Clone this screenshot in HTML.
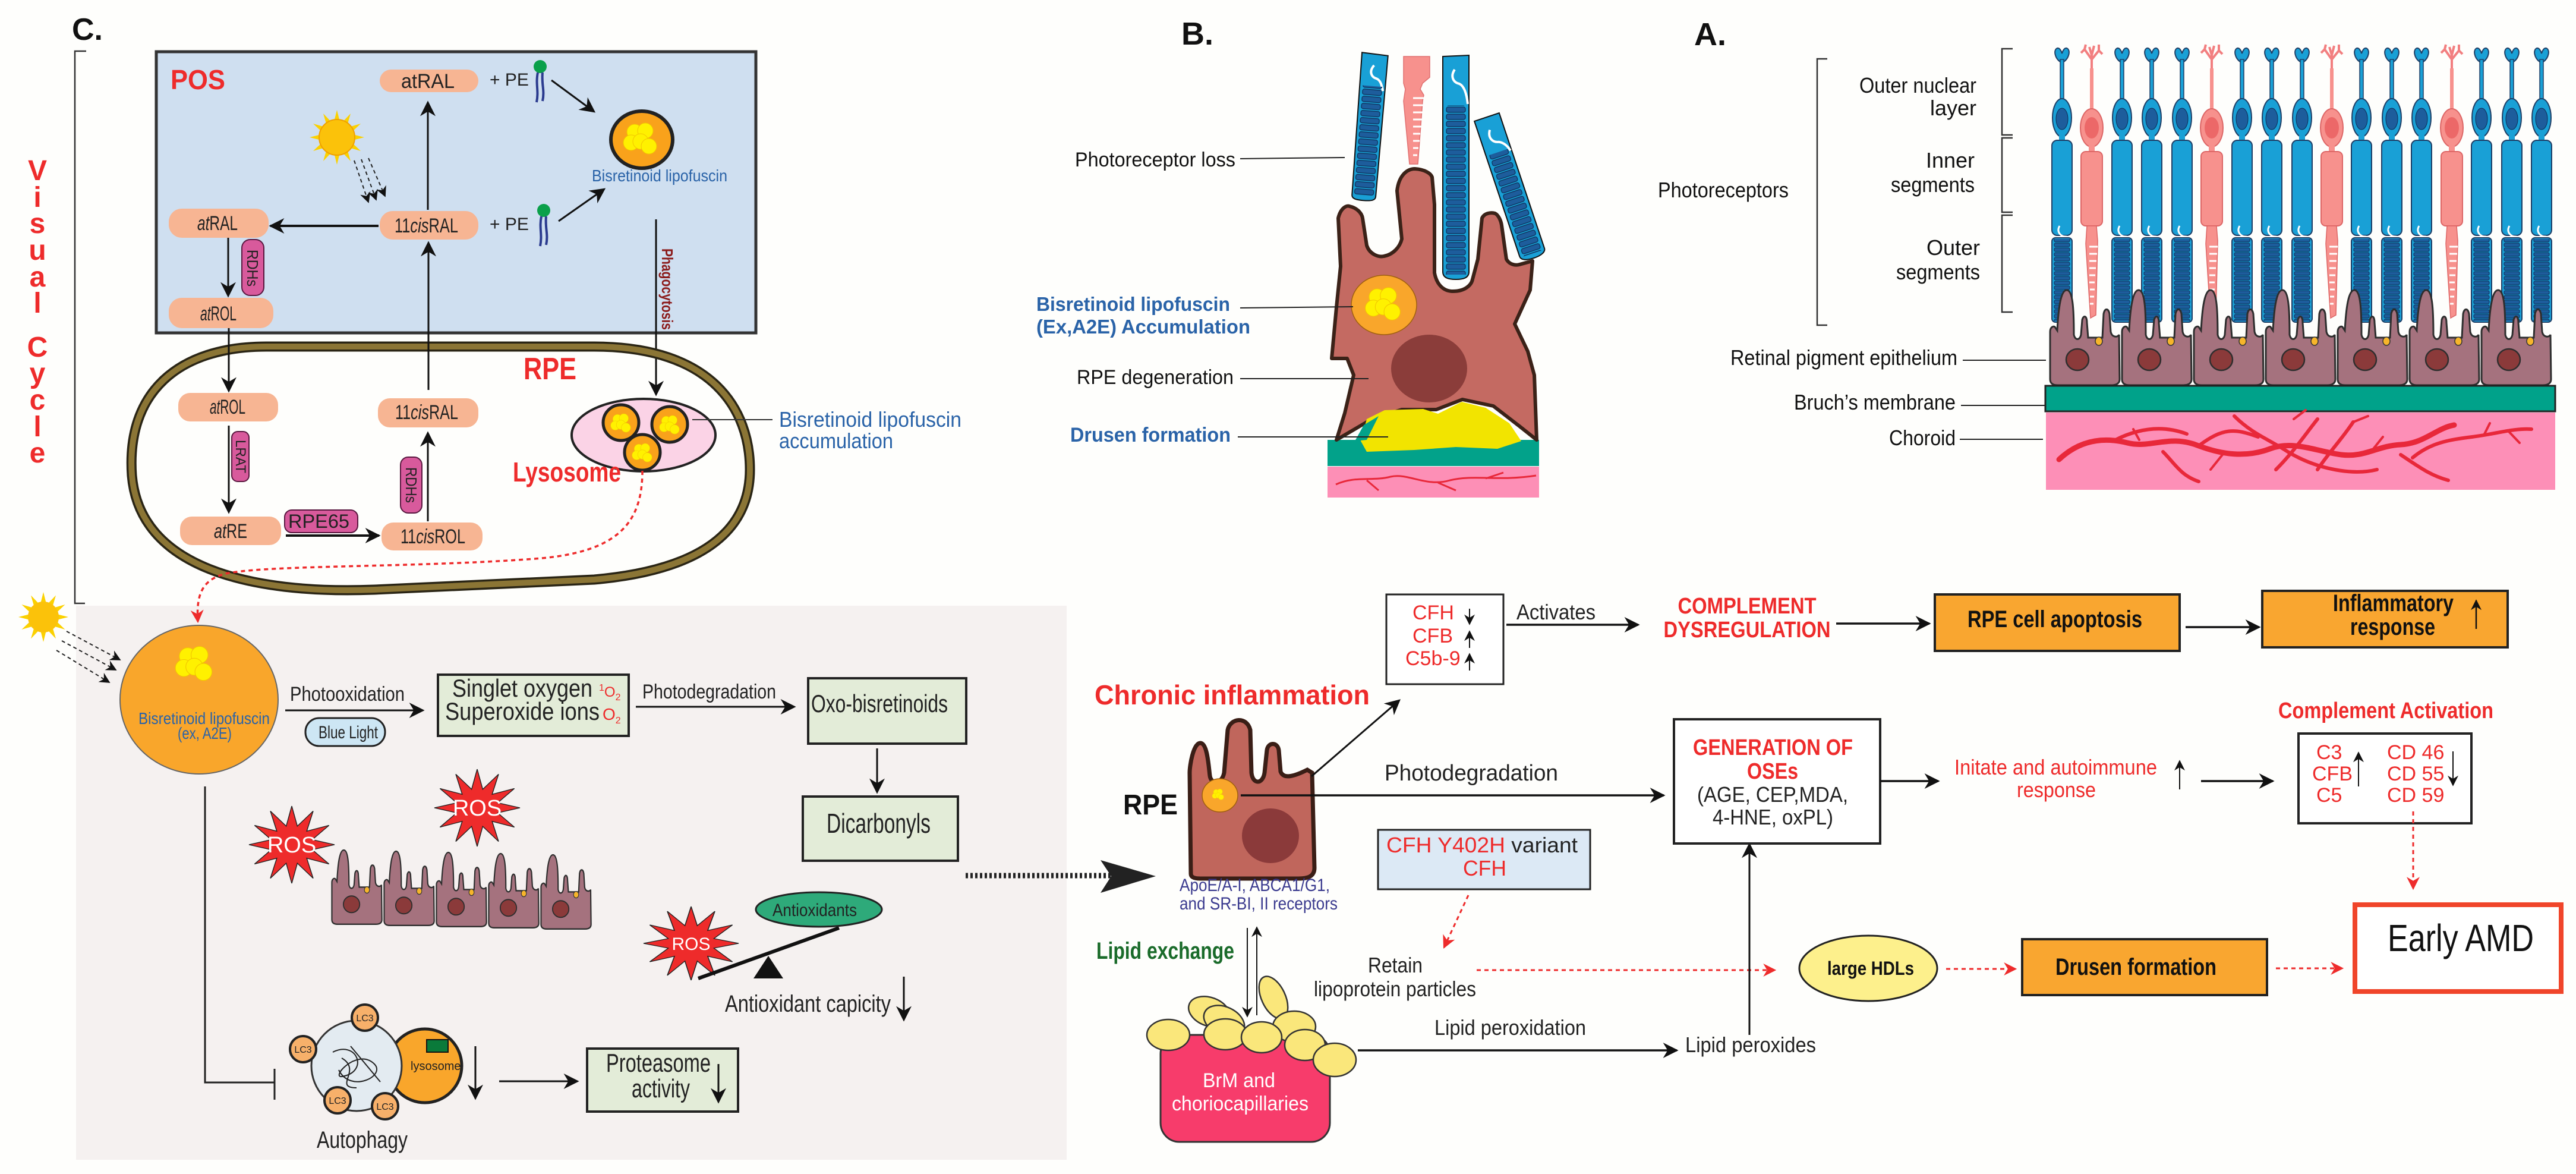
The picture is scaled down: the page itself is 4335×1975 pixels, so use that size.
<!DOCTYPE html>
<html><head><meta charset="utf-8"><style>
html,body{margin:0;padding:0;background:#fefefc}
svg{display:block}
text{font-family:"Liberation Sans",Arial,sans-serif}
</style></head><body>
<svg width="4335" height="1975" viewBox="0 0 4335 1975" xmlns="http://www.w3.org/2000/svg">
<defs>
<marker id="a" viewBox="0 0 10 10" refX="9" refY="5" markerWidth="30" markerHeight="26" markerUnits="userSpaceOnUse" orient="auto"><path d="M0,0 L10,5 L0,10 L3,5z" fill="#111"/></marker>
<marker id="as" viewBox="0 0 10 10" refX="9" refY="5" markerWidth="20" markerHeight="18" markerUnits="userSpaceOnUse" orient="auto"><path d="M0,0 L10,5 L0,10 L3,5z" fill="#111"/></marker>
<marker id="ar" viewBox="0 0 10 10" refX="9" refY="5" markerWidth="24" markerHeight="22" markerUnits="userSpaceOnUse" orient="auto"><path d="M0,0 L10,5 L0,10 L3,5z" fill="#ee2b2b"/></marker>
<pattern id="discs" x="-14" y="0" width="28" height="8" patternUnits="userSpaceOnUse"><rect x="1" y="1" width="26" height="6" rx="2" fill="#1d5d9c" stroke="#0d2d55" stroke-width="1"/></pattern>
<pattern id="discsB" x="-17" y="0" width="34" height="12" patternUnits="userSpaceOnUse"><rect x="1" y="1" width="32" height="9" rx="3" fill="#1d5d9c" stroke="#0d2d55" stroke-width="1.2"/></pattern>
<path id="star" d="M100,0 L48,13 L87,50 L35,35 L50,87 L13,48 L0,100 L-13,48 L-50,87 L-35,35 L-87,50 L-48,13 L-100,0 L-48,-13 L-87,-50 L-35,-35 L-50,-87 L-13,-48 L0,-100 L13,-48 L50,-87 L35,-35 L87,-50 L48,-13 Z"/>
<g id="rod">
<path d="M-3,24 C-12,18 -15,4 -8,1 C-4,0 -1,6 0,10 C1,6 4,0 8,1 C15,4 12,18 3,24 Z" fill="#19a0d6" stroke="#1f3f66" stroke-width="2"/>
<rect x="-3" y="20" width="6" height="70" fill="#19a0d6" stroke="#1f3f66" stroke-width="1.5"/>
<ellipse cx="0" cy="118" rx="16" ry="32" fill="#19a0d6" stroke="#1f3f66" stroke-width="2"/>
<ellipse cx="0" cy="120" rx="10" ry="18" fill="#1d5d9c" stroke="#0d2d55"/>
<rect x="-5" y="145" width="10" height="16" fill="#19a0d6"/>
<rect x="-17" y="156" width="34" height="160" rx="9" fill="#19a0d6" stroke="#1f3f66" stroke-width="2"/>
<path d="M-4,300 C-10,310 -2,318 6,318 C12,318 14,325 18,330" stroke="#fff" stroke-width="3" fill="none"/>
<rect x="-17" y="320" width="34" height="142" rx="6" fill="#19a0d6" stroke="#1f3f66" stroke-width="2"/>
<rect x="-14" y="322" width="28" height="138" fill="url(#discs)"/>
</g>
<g id="cone">
<path d="M0,50 L0,18 M0,25 L-12,8 M0,25 L12,10 M-12,8 L-18,14 M-12,8 L-10,0 M12,10 L18,16 M12,10 L12,0 M0,18 L-4,4 M0,18 L4,2" stroke="#f27f80" stroke-width="4" fill="none"/>
<rect x="-3" y="40" width="6" height="75" fill="#f7918d"/>
<ellipse cx="0" cy="140" rx="19" ry="32" fill="#f7918d" stroke="#d66" stroke-width="2"/>
<ellipse cx="0" cy="140" rx="12" ry="18" fill="#ec6868"/>
<rect x="-5" y="168" width="10" height="16" fill="#f7918d"/>
<rect x="-18" y="180" width="36" height="125" rx="8" fill="#f7918d" stroke="#d66" stroke-width="2"/>
<path d="M-8,305 L8,305 L10,330 L7,455 L-2,460 L-10,335 Z" fill="#f7918d" stroke="#d66" stroke-width="1.5"/>
<path d="M-4,340 h14 M-4,352 h13 M-4,364 h12 M-4,376 h11 M-4,388 h10 M-4,400 h9 M-3,412 h8 M-3,424 h7 M-3,436 h6" stroke="#fff" stroke-width="3"/>
</g>
<g id="rpecell">
<path d="M2,150 L2,70 C2,62 8,60 10,62 L14,68 C16,30 20,0 30,0 C40,0 42,30 42,75 C44,85 52,85 54,75 L56,50 C58,42 64,42 64,55 L66,80 L90,80 L92,40 C94,30 100,30 102,40 L104,70 C106,80 116,80 118,75 L119,150 C119,158 112,160 105,160 L15,160 C8,160 2,158 2,150 Z" fill="#a5727e" stroke="#2e2e2e" stroke-width="3"/>
<ellipse cx="48" cy="117" rx="19" ry="18" fill="#8b3a3a" stroke="#2e2e2e" stroke-width="2.5"/>
<ellipse cx="84" cy="86" rx="6" ry="7" fill="#f7b52b" stroke="#333" stroke-width="1.5"/>
</g>
<g id="balls">
<circle cx="-10" cy="-10" r="13" fill="#fff100" stroke="#f2c500"/>
<circle cx="8" cy="-12" r="13" fill="#fff100" stroke="#f2c500"/>
<circle cx="-16" cy="8" r="13" fill="#fff100" stroke="#f2c500"/>
<circle cx="0" cy="6" r="13" fill="#fff100" stroke="#f2c500"/>
<circle cx="14" cy="14" r="13" fill="#fff100" stroke="#f2c500"/>
</g>
<g id="pe">
<circle cx="0" cy="0" r="11" fill="#0aa04a"/>
<path d="M-4,10 C-8,30 -2,40 -6,60 M4,10 C2,30 8,40 4,58" stroke="#2b3b8f" stroke-width="4" fill="none"/>
</g>
</defs>

<!-- ================= PANEL C ================= -->
<text x="121" y="67" font-size="52" font-weight="bold" fill="#111">C.</text>
<path d="M145,86 L126,86 L126,1015 L143,1015" stroke="#333" stroke-width="2.5" fill="none"/>
<g font-size="48" font-weight="bold" fill="#ee2b2b" text-anchor="middle">
<text x="63" y="303">V</text><text x="63" y="348">i</text><text x="63" y="392">s</text><text x="63" y="437">u</text><text x="63" y="482">a</text><text x="63" y="526">l</text>
<text x="63" y="600">C</text><text x="63" y="644">y</text><text x="63" y="689">c</text><text x="63" y="734">l</text><text x="63" y="778">e</text>
</g>

<rect x="128" y="1019" width="1667" height="932" fill="#f5f1f0"/>

<rect x="263" y="87" width="1009" height="473" fill="#cfdff0" stroke="#333" stroke-width="5"/>
<text x="287" y="150" font-size="46" font-weight="bold" fill="#ee2b2b" textLength="92" lengthAdjust="spacingAndGlyphs">POS</text>

<g transform="translate(567,231)"><use href="#star" transform="scale(0.46)" fill="#fbd100"/><circle r="30" fill="#fbc20a" stroke="#f0a000" stroke-width="2"/></g>
<g stroke="#222" stroke-width="2" stroke-dasharray="6,5" fill="none" marker-end="url(#as)">
<path d="M596,270 L620,340"/><path d="M608,268 L633,336"/><path d="M620,266 L648,330"/>
</g>

<rect x="639" y="117" width="166" height="38" rx="19" fill="#f7b593"/>
<text x="675" y="148" font-size="34" fill="#222" textLength="90" lengthAdjust="spacingAndGlyphs">atRAL</text>
<text x="824" y="144" font-size="30" fill="#222">+ PE</text>
<use href="#pe" x="909" y="112"/>
<line x1="928" y1="135" x2="1000" y2="188" stroke="#111" stroke-width="3" marker-end="url(#a)"/>
<ellipse cx="1080" cy="235" rx="52" ry="48" fill="#f9a21b" stroke="#222" stroke-width="6"/>
<use href="#balls" x="1078" y="232"/>
<text x="996" y="305" font-size="28" fill="#2a63a8" textLength="228" lengthAdjust="spacingAndGlyphs">Bisretinoid lipofuscin</text>

<rect x="639" y="355" width="166" height="48" rx="22" fill="#f7b593"/>
<text x="664" y="391" font-size="34" fill="#222" textLength="107" lengthAdjust="spacingAndGlyphs">11<tspan font-style="italic">cis</tspan>RAL</text>
<text x="824" y="387" font-size="30" fill="#222">+ PE</text>
<use href="#pe" x="915" y="354"/>
<line x1="940" y1="372" x2="1017" y2="318" stroke="#111" stroke-width="3" marker-end="url(#a)"/>

<rect x="284" y="351" width="168" height="49" rx="22" fill="#f7b593"/>
<text x="332" y="387" font-size="34" fill="#222" textLength="68" lengthAdjust="spacingAndGlyphs"><tspan font-style="italic">at</tspan>RAL</text>
<line x1="637" y1="380" x2="455" y2="380" stroke="#111" stroke-width="4" marker-end="url(#a)"/>
<line x1="720" y1="353" x2="720" y2="172" stroke="#111" stroke-width="3" marker-end="url(#a)"/>

<rect x="407" y="403" width="37" height="94" rx="14" fill="#d85a9c" stroke="#5a1840" stroke-width="2"/>
<text transform="translate(416,420) rotate(90)" font-size="26" fill="#222" textLength="62" lengthAdjust="spacingAndGlyphs">RDHs</text>
<line x1="384" y1="400" x2="384" y2="498" stroke="#111" stroke-width="3" marker-end="url(#a)"/>
<rect x="284" y="501" width="176" height="51" rx="22" fill="#f7b593"/>
<text x="337" y="539" font-size="34" fill="#222" textLength="61" lengthAdjust="spacingAndGlyphs"><tspan font-style="italic">at</tspan>ROL</text>

<line x1="1104" y1="369" x2="1104" y2="664" stroke="#111" stroke-width="3" marker-end="url(#a)"/>
<text transform="translate(1114,418) rotate(90)" font-size="26" font-weight="bold" fill="#8b1a1a" textLength="137" lengthAdjust="spacingAndGlyphs">Phagocytosis</text>

<path d="M448,583 L1000,583 C1200,583 1262,690 1262,790 C1262,900 1170,960 1000,975 L630,992 C420,1000 235,955 222,800 C212,660 300,583 448,583 Z" fill="none" stroke="#2a2515" stroke-width="17"/>
<path d="M448,583 L1000,583 C1200,583 1262,690 1262,790 C1262,900 1170,960 1000,975 L630,992 C420,1000 235,955 222,800 C212,660 300,583 448,583 Z" fill="none" stroke="#8b7535" stroke-width="10"/>
<text x="881" y="638" font-size="52" font-weight="bold" fill="#ee2b2b" textLength="89" lengthAdjust="spacingAndGlyphs">RPE</text>

<line x1="385" y1="552" x2="385" y2="658" stroke="#111" stroke-width="3" marker-end="url(#a)"/>
<rect x="300" y="661" width="168" height="48" rx="20" fill="#f7b593"/>
<text x="353" y="696" font-size="34" fill="#222" textLength="60" lengthAdjust="spacingAndGlyphs"><tspan font-style="italic">at</tspan>ROL</text>
<rect x="390" y="726" width="29" height="84" rx="10" fill="#d85a9c" stroke="#5a1840" stroke-width="2"/>
<text transform="translate(397,740) rotate(90)" font-size="24" fill="#222" textLength="56" lengthAdjust="spacingAndGlyphs">LRAT</text>
<line x1="385" y1="716" x2="385" y2="862" stroke="#111" stroke-width="3" marker-end="url(#a)"/>
<rect x="303" y="869" width="170" height="48" rx="20" fill="#f7b593"/>
<text x="360" y="905" font-size="34" fill="#222" textLength="56" lengthAdjust="spacingAndGlyphs"><tspan font-style="italic">at</tspan>RE</text>
<rect x="479" y="858" width="123" height="38" rx="12" fill="#d85a9c" stroke="#5a1840" stroke-width="2"/>
<text x="485" y="888" font-size="32" fill="#222" textLength="103" lengthAdjust="spacingAndGlyphs">RPE65</text>
<line x1="481" y1="901" x2="638" y2="901" stroke="#111" stroke-width="4" marker-end="url(#a)"/>
<rect x="642" y="879" width="170" height="47" rx="20" fill="#f7b593"/>
<text x="674" y="914" font-size="34" fill="#222" textLength="109" lengthAdjust="spacingAndGlyphs">11<tspan font-style="italic">cis</tspan>ROL</text>
<rect x="674" y="769" width="36" height="94" rx="13" fill="#d85a9c" stroke="#5a1840" stroke-width="2"/>
<text transform="translate(683,786) rotate(90)" font-size="26" fill="#222" textLength="60" lengthAdjust="spacingAndGlyphs">RDHs</text>
<line x1="720" y1="877" x2="720" y2="728" stroke="#111" stroke-width="3" marker-end="url(#a)"/>
<rect x="636" y="670" width="169" height="49" rx="20" fill="#f7b593"/>
<text x="665" y="705" font-size="34" fill="#222" font-family="Liberation Serif,serif" textLength="106" lengthAdjust="spacingAndGlyphs">11<tspan font-style="italic">cis</tspan>RAL</text>
<line x1="721" y1="656" x2="721" y2="408" stroke="#111" stroke-width="3" marker-end="url(#a)"/>

<ellipse cx="1083" cy="732" rx="121" ry="61" fill="#fbd3e6" stroke="#222" stroke-width="4"/>
<g><circle cx="1045" cy="711" r="30" fill="#f9a21b" stroke="#222" stroke-width="5"/><use href="#balls" transform="translate(1045,711) scale(0.6)"/></g>
<g><circle cx="1127" cy="714" r="30" fill="#f9a21b" stroke="#222" stroke-width="5"/><use href="#balls" transform="translate(1127,714) scale(0.6)"/></g>
<g><circle cx="1081" cy="761" r="30" fill="#f9a21b" stroke="#222" stroke-width="5"/><use href="#balls" transform="translate(1081,761) scale(0.6)"/></g>
<line x1="1165" y1="706" x2="1300" y2="706" stroke="#333" stroke-width="2"/>
<text x="1311" y="718" font-size="36" fill="#2a63a8" textLength="307" lengthAdjust="spacingAndGlyphs">Bisretinoid lipofuscin</text>
<text x="1311" y="754" font-size="36" fill="#2a63a8" textLength="192" lengthAdjust="spacingAndGlyphs">accumulation</text>
<text x="863" y="810" font-size="46" font-weight="bold" fill="#ee2b2b" textLength="182" lengthAdjust="spacingAndGlyphs">Lysosome</text>
<path d="M1081,792 C1081,880 1040,930 900,940 C700,955 450,950 380,965 C340,975 330,1000 333,1046" fill="none" stroke="#ee2b2b" stroke-width="3.5" stroke-dasharray="7,6" marker-end="url(#ar)"/>

<g transform="translate(73,1038)"><use href="#star" transform="scale(0.42)" fill="#fbd100"/><circle r="26" fill="#fbc20a"/></g>
<g stroke="#222" stroke-width="2" stroke-dasharray="6,5" fill="none" marker-end="url(#as)">
<path d="M112,1062 L202,1110"/><path d="M104,1078 L195,1127"/><path d="M95,1094 L184,1148"/>
</g>
<ellipse cx="335" cy="1177" rx="133" ry="125" fill="#f9a62b" stroke="#666" stroke-width="2"/>
<use href="#balls" transform="translate(327,1115) scale(1.1)"/>
<text x="233" y="1218" font-size="28" fill="#2a63a8" textLength="221" lengthAdjust="spacingAndGlyphs">Bisretinoid lipofuscin</text>
<text x="299" y="1243" font-size="28" fill="#2a63a8" textLength="91" lengthAdjust="spacingAndGlyphs">(ex, A2E)</text>

<text x="488" y="1179" font-size="34" fill="#222" textLength="193" lengthAdjust="spacingAndGlyphs">Photooxidation</text>
<line x1="480" y1="1195" x2="712" y2="1195" stroke="#111" stroke-width="3" marker-end="url(#a)"/>
<rect x="514" y="1208" width="134" height="47" rx="23" fill="#cde6f4" stroke="#222" stroke-width="3"/>
<text x="536" y="1242" font-size="30" fill="#222" textLength="100" lengthAdjust="spacingAndGlyphs">Blue Light</text>

<rect x="737" y="1135" width="321" height="103" fill="#e3ecd8" stroke="#222" stroke-width="4"/>
<text x="761" y="1172" font-size="42" fill="#222" textLength="236" lengthAdjust="spacingAndGlyphs">Singlet oxygen</text>
<text x="1008" y="1172" font-size="24" fill="#ee2b2b"><tspan font-size="16" dy="-10">1</tspan><tspan dy="10">O</tspan><tspan font-size="16" dy="6">2</tspan></text>
<text x="749" y="1211" font-size="42" fill="#222" textLength="260" lengthAdjust="spacingAndGlyphs">Superoxide ions</text>
<text x="1014" y="1211" font-size="28" fill="#ee2b2b">O<tspan font-size="16" dy="6">2</tspan></text>

<text x="1081" y="1175" font-size="34" fill="#222" textLength="225" lengthAdjust="spacingAndGlyphs">Photodegradation</text>
<line x1="1070" y1="1189" x2="1337" y2="1189" stroke="#111" stroke-width="3" marker-end="url(#a)"/>
<rect x="1360" y="1141" width="266" height="110" fill="#e3ecd8" stroke="#222" stroke-width="4"/>
<text x="1365" y="1198" font-size="42" fill="#222" textLength="230" lengthAdjust="spacingAndGlyphs">Oxo-bisretinoids</text>
<line x1="1476" y1="1259" x2="1476" y2="1333" stroke="#111" stroke-width="3" marker-end="url(#a)"/>
<rect x="1351" y="1340" width="261" height="108" fill="#e3ecd8" stroke="#222" stroke-width="4"/>
<text x="1391" y="1401" font-size="46" fill="#222" textLength="175" lengthAdjust="spacingAndGlyphs">Dicarbonyls</text>

<g transform="translate(491,1421)"><use href="#star" transform="scale(0.72,0.65)" fill="#ee2b2b" stroke="#222" stroke-width="2" vector-effect="non-scaling-stroke"/></g>
<text x="491" y="1434" font-size="38" fill="#fff" text-anchor="middle" font-family="Liberation Serif,serif">ROS</text>
<g transform="translate(803,1359)"><use href="#star" transform="scale(0.72,0.65)" fill="#ee2b2b" stroke="#222" stroke-width="2" vector-effect="non-scaling-stroke"/></g>
<text x="803" y="1372" font-size="38" fill="#fff" text-anchor="middle" font-family="Liberation Serif,serif">ROS</text>
<g transform="translate(1163,1587)"><use href="#star" transform="scale(0.8,0.62)" fill="#ee2b2b" stroke="#222" stroke-width="2" vector-effect="non-scaling-stroke"/></g>
<text x="1163" y="1598" font-size="30" fill="#fff" text-anchor="middle">ROS</text>

<use href="#rpecell" transform="translate(557,1430) scale(0.72,0.78)"/>
<use href="#rpecell" transform="translate(645,1432) scale(0.72,0.78)"/>
<use href="#rpecell" transform="translate(733,1434) scale(0.72,0.78)"/>
<use href="#rpecell" transform="translate(821,1436) scale(0.72,0.78)"/>
<use href="#rpecell" transform="translate(909,1438) scale(0.72,0.78)"/>

<line x1="1175" y1="1646" x2="1412" y2="1561" stroke="#111" stroke-width="6"/>
<ellipse cx="1378" cy="1530" rx="106" ry="29" fill="#2eaa7a" stroke="#222" stroke-width="3"/>
<text x="1300" y="1541" font-size="30" fill="#222" textLength="142" lengthAdjust="spacingAndGlyphs">Antioxidants</text>
<polygon points="1293,1608 1318,1646 1268,1646" fill="#111"/>
<text x="1220" y="1702" font-size="40" fill="#222" textLength="279" lengthAdjust="spacingAndGlyphs">Antioxidant capicity</text>
<line x1="1521" y1="1643" x2="1521" y2="1716" stroke="#111" stroke-width="3" marker-end="url(#a)"/>

<polyline points="345,1323 345,1821 462,1821" fill="none" stroke="#222" stroke-width="3"/>
<line x1="462" y1="1798" x2="462" y2="1850" stroke="#222" stroke-width="3"/>
<circle cx="715" cy="1793" r="62" fill="#f9a62b" stroke="#222" stroke-width="5"/>
<circle cx="600" cy="1793" r="76" fill="#e3ebf1" stroke="#333" stroke-width="3"/>
<path d="M560,1770 C600,1750 620,1800 580,1810 C550,1820 600,1760 630,1790 C650,1810 590,1840 570,1800 M575,1780 C610,1800 560,1830 600,1830 M590,1760 L640,1820" fill="none" stroke="#222" stroke-width="2"/>
<rect x="718" y="1749" width="36" height="21" fill="#0a7a3a" stroke="#111" stroke-width="2"/>
<text x="691" y="1800" font-size="20" fill="#222" font-family="Liberation Serif,serif">lysosome</text>
<g fill="#f7b06a" stroke="#222" stroke-width="4">
<circle cx="614" cy="1712" r="22"/><circle cx="510" cy="1765" r="22"/><circle cx="568" cy="1851" r="22"/><circle cx="648" cy="1861" r="22"/>
</g>
<g font-size="16" fill="#222" text-anchor="middle"><text x="614" y="1718">LC3</text><text x="510" y="1771">LC3</text><text x="568" y="1857">LC3</text><text x="648" y="1867">LC3</text></g>
<text x="533" y="1931" font-size="40" fill="#222" textLength="153" lengthAdjust="spacingAndGlyphs">Autophagy</text>
<line x1="800" y1="1760" x2="800" y2="1848" stroke="#111" stroke-width="3" marker-end="url(#a)"/>
<line x1="840" y1="1819" x2="972" y2="1819" stroke="#111" stroke-width="3" marker-end="url(#a)"/>
<rect x="988" y="1764" width="254" height="106" fill="#e3ecd8" stroke="#222" stroke-width="4"/>
<text x="1020" y="1803" font-size="44" fill="#222" textLength="176" lengthAdjust="spacingAndGlyphs">Proteasome</text>
<text x="1063" y="1846" font-size="44" fill="#222" textLength="98" lengthAdjust="spacingAndGlyphs">activity</text>
<line x1="1209" y1="1790" x2="1209" y2="1854" stroke="#111" stroke-width="3" marker-end="url(#a)"/>

<line x1="1625" y1="1473" x2="1900" y2="1473" stroke="#222" stroke-width="9" stroke-dasharray="4,4"/>
<path d="M1852,1447 L1945,1474 L1852,1502 L1870,1474 Z" fill="#222"/>

<!-- ================= middle flow ================= -->
<text x="1842" y="1185" font-size="46" font-weight="bold" fill="#ee2b2b" textLength="463" lengthAdjust="spacingAndGlyphs">Chronic inflammation</text>
<text x="1890" y="1370" font-size="48" font-weight="bold" fill="#111" textLength="92" lengthAdjust="spacingAndGlyphs">RPE</text>
<path d="M2004,1470 L2002,1300 C2002,1288 2008,1250 2020,1250 C2032,1250 2034,1290 2036,1305 C2038,1320 2056,1320 2060,1300 L2066,1228 C2070,1208 2098,1204 2104,1228 L2106,1300 C2108,1320 2125,1320 2128,1300 L2132,1262 C2134,1248 2150,1248 2152,1262 L2155,1298 C2160,1312 2180,1305 2200,1295 L2208,1300 L2212,1460 C2212,1475 2200,1478 2185,1478 L2020,1478 C2010,1478 2004,1476 2004,1470 Z" fill="#c0665c" stroke="#3a1e16" stroke-width="7"/>
<ellipse cx="2138" cy="1406" rx="48" ry="46" fill="#8b3a3a"/>
<ellipse cx="2053" cy="1338" rx="30" ry="28" fill="#f9a62b" stroke="#a06010" stroke-width="1.5"/>
<use href="#balls" transform="translate(2050,1336) scale(0.35)"/>
<line x1="2207" y1="1306" x2="2355" y2="1178" stroke="#111" stroke-width="3" marker-end="url(#a)"/>
<line x1="2088" y1="1338" x2="2800" y2="1338" stroke="#111" stroke-width="3.5" marker-end="url(#a)"/>
<text x="2330" y="1313" font-size="38" fill="#222" textLength="292" lengthAdjust="spacingAndGlyphs">Photodegradation</text>
<text x="1985" y="1499" font-size="30" fill="#3b3b8f" textLength="253" lengthAdjust="spacingAndGlyphs">ApoE/A-I, ABCA1/G1,</text>
<text x="1985" y="1530" font-size="30" fill="#3b3b8f" textLength="266" lengthAdjust="spacingAndGlyphs">and SR-BI, II receptors</text>

<rect x="2333" y="1000" width="197" height="151" fill="#fff" stroke="#222" stroke-width="3"/>
<g font-size="34" fill="#ee2b2b"><text x="2377" y="1042">CFH</text><text x="2377" y="1081">CFB</text><text x="2365" y="1119">C5b-9</text></g>
<line x1="2473" y1="1024" x2="2473" y2="1050" stroke="#111" stroke-width="2" marker-end="url(#as)"/>
<line x1="2473" y1="1090" x2="2473" y2="1062" stroke="#111" stroke-width="2" marker-end="url(#as)"/>
<line x1="2473" y1="1128" x2="2473" y2="1100" stroke="#111" stroke-width="2" marker-end="url(#as)"/>
<text x="2552" y="1042" font-size="36" fill="#222" textLength="133" lengthAdjust="spacingAndGlyphs">Activates</text>
<line x1="2535" y1="1051" x2="2757" y2="1051" stroke="#111" stroke-width="3.5" marker-end="url(#a)"/>
<text x="2940" y="1032" font-size="38" font-weight="bold" fill="#ee2b2b" text-anchor="middle" textLength="233" lengthAdjust="spacingAndGlyphs">COMPLEMENT</text>
<text x="2940" y="1072" font-size="38" font-weight="bold" fill="#ee2b2b" text-anchor="middle" textLength="281" lengthAdjust="spacingAndGlyphs">DYSREGULATION</text>
<line x1="3090" y1="1049" x2="3247" y2="1049" stroke="#111" stroke-width="3.5" marker-end="url(#a)"/>
<rect x="3256" y="1000" width="412" height="95" fill="#f9a630" stroke="#222" stroke-width="4"/>
<text x="3311" y="1055" font-size="40" font-weight="bold" fill="#111" textLength="294" lengthAdjust="spacingAndGlyphs">RPE cell apoptosis</text>
<line x1="3678" y1="1055" x2="3802" y2="1055" stroke="#111" stroke-width="3.5" marker-end="url(#a)"/>
<rect x="3807" y="994" width="413" height="95" fill="#f9a630" stroke="#222" stroke-width="4"/>
<text x="3926" y="1028" font-size="40" font-weight="bold" fill="#111" textLength="203" lengthAdjust="spacingAndGlyphs">Inflammatory</text>
<text x="3955" y="1068" font-size="40" font-weight="bold" fill="#111" textLength="143" lengthAdjust="spacingAndGlyphs">response</text>
<line x1="4167" y1="1058" x2="4167" y2="1010" stroke="#111" stroke-width="2.5" marker-end="url(#as)"/>

<rect x="2319" y="1396" width="357" height="100" fill="#dce9f5" stroke="#222" stroke-width="3"/>
<text x="2333" y="1434" font-size="36" fill="#ee2b2b" textLength="322" lengthAdjust="spacingAndGlyphs">CFH Y402H <tspan fill="#222">variant</tspan></text>
<text x="2462" y="1473" font-size="36" fill="#ee2b2b" textLength="73" lengthAdjust="spacingAndGlyphs">CFH</text>
<line x1="2471" y1="1506" x2="2430" y2="1594" stroke="#ee2b2b" stroke-width="3" stroke-dasharray="7,6" marker-end="url(#ar)"/>

<text x="1845" y="1613" font-size="40" font-weight="bold" fill="#1a6b2a" textLength="232" lengthAdjust="spacingAndGlyphs">Lipid exchange</text>
<line x1="2099" y1="1561" x2="2099" y2="1710" stroke="#111" stroke-width="2" marker-end="url(#as)"/>
<line x1="2115" y1="1708" x2="2115" y2="1560" stroke="#111" stroke-width="2" marker-end="url(#as)"/>
<text x="2302" y="1636" font-size="36" fill="#222" textLength="92" lengthAdjust="spacingAndGlyphs">Retain</text>
<text x="2211" y="1676" font-size="36" fill="#222" textLength="273" lengthAdjust="spacingAndGlyphs">lipoprotein particles</text>
<line x1="2485" y1="1632" x2="2987" y2="1632" stroke="#ee2b2b" stroke-width="3" stroke-dasharray="7,6" marker-end="url(#ar)"/>

<rect x="1953" y="1741" width="285" height="180" rx="32" fill="#f73c6b" stroke="#333" stroke-width="3"/>
<g fill="#fae77b" stroke="#333" stroke-width="2.5">
<ellipse cx="2143" cy="1678" rx="20" ry="38" transform="rotate(-25 2143 1678)"/>
<ellipse cx="2035" cy="1702" rx="36" ry="24" transform="rotate(20 2035 1702)"/>
<ellipse cx="2060" cy="1718" rx="36" ry="24" transform="rotate(25 2060 1718)"/>
<ellipse cx="2178" cy="1727" rx="36" ry="26"/>
<ellipse cx="1966" cy="1741" rx="36" ry="26"/>
<ellipse cx="2062" cy="1740" rx="36" ry="26"/>
<ellipse cx="2123" cy="1745" rx="34" ry="26"/>
<ellipse cx="2196" cy="1758" rx="34" ry="26"/>
<ellipse cx="2246" cy="1783" rx="36" ry="28"/>
</g>
<text x="2024" y="1829" font-size="34" fill="#fff" textLength="122" lengthAdjust="spacingAndGlyphs">BrM and</text>
<text x="1972" y="1868" font-size="34" fill="#fff" textLength="230" lengthAdjust="spacingAndGlyphs">choriocapillaries</text>
<line x1="2285" y1="1767" x2="2822" y2="1767" stroke="#111" stroke-width="3.5" marker-end="url(#a)"/>
<text x="2414" y="1741" font-size="36" fill="#222" textLength="255" lengthAdjust="spacingAndGlyphs">Lipid peroxidation</text>
<text x="2836" y="1770" font-size="36" fill="#222" textLength="220" lengthAdjust="spacingAndGlyphs">Lipid peroxides</text>
<line x1="2944" y1="1741" x2="2944" y2="1420" stroke="#111" stroke-width="3" marker-end="url(#a)"/>

<rect x="2817" y="1210" width="347" height="209" fill="#fff" stroke="#222" stroke-width="4"/>
<text x="2849" y="1270" font-size="38" font-weight="bold" fill="#ee2b2b" textLength="269" lengthAdjust="spacingAndGlyphs">GENERATION OF</text>
<text x="2940" y="1310" font-size="38" font-weight="bold" fill="#ee2b2b" textLength="86" lengthAdjust="spacingAndGlyphs">OSEs</text>
<text x="2856" y="1349" font-size="36" fill="#222" textLength="254" lengthAdjust="spacingAndGlyphs">(AGE, CEP,MDA,</text>
<text x="2882" y="1387" font-size="36" fill="#222" textLength="203" lengthAdjust="spacingAndGlyphs">4-HNE, oxPL)</text>
<line x1="3164" y1="1314" x2="3262" y2="1314" stroke="#111" stroke-width="3.5" marker-end="url(#a)"/>
<text x="3289" y="1303" font-size="36" fill="#ee2b2b" textLength="341" lengthAdjust="spacingAndGlyphs">Initate and autoimmune</text>
<text x="3394" y="1341" font-size="36" fill="#ee2b2b" textLength="133" lengthAdjust="spacingAndGlyphs">response</text>
<line x1="3668" y1="1328" x2="3668" y2="1280" stroke="#111" stroke-width="2" marker-end="url(#as)"/>
<line x1="3704" y1="1314" x2="3825" y2="1314" stroke="#111" stroke-width="3.5" marker-end="url(#a)"/>
<text x="3834" y="1208" font-size="38" font-weight="bold" fill="#ee2b2b" textLength="362" lengthAdjust="spacingAndGlyphs">Complement Activation</text>
<rect x="3868" y="1234" width="291" height="151" fill="#fff" stroke="#222" stroke-width="4"/>
<g font-size="34" fill="#ee2b2b"><text x="3898" y="1277">C3</text><text x="3891" y="1313">CFB</text><text x="3898" y="1349">C5</text>
<text x="4017" y="1277">CD 46</text><text x="4017" y="1313">CD 55</text><text x="4017" y="1349">CD 59</text></g>
<line x1="3969" y1="1323" x2="3969" y2="1266" stroke="#111" stroke-width="2" marker-end="url(#as)"/>
<line x1="4128" y1="1264" x2="4128" y2="1321" stroke="#111" stroke-width="2" marker-end="url(#as)"/>
<line x1="4061" y1="1365" x2="4061" y2="1495" stroke="#ee2b2b" stroke-width="3" stroke-dasharray="7,6" marker-end="url(#ar)"/>

<ellipse cx="3144" cy="1629" rx="116" ry="55" fill="#fdf08c" stroke="#222" stroke-width="3"/>
<text x="3075" y="1640" font-size="32" font-weight="bold" fill="#111" textLength="146" lengthAdjust="spacingAndGlyphs">large HDLs</text>
<line x1="3275" y1="1630" x2="3392" y2="1630" stroke="#ee2b2b" stroke-width="3" stroke-dasharray="7,6" marker-end="url(#ar)"/>
<rect x="3403" y="1580" width="412" height="94" fill="#f9a630" stroke="#222" stroke-width="4"/>
<text x="3459" y="1640" font-size="40" font-weight="bold" fill="#111" textLength="271" lengthAdjust="spacingAndGlyphs">Drusen formation</text>
<line x1="3830" y1="1629" x2="3942" y2="1629" stroke="#ee2b2b" stroke-width="3" stroke-dasharray="7,6" marker-end="url(#ar)"/>
<rect x="3963" y="1522" width="347" height="146" fill="#fff" stroke="#f0452a" stroke-width="8"/>
<text x="4018" y="1600" font-size="64" fill="#111" textLength="246" lengthAdjust="spacingAndGlyphs">Early AMD</text>

<!-- ================= PANEL B ================= -->
<text x="1988" y="75" font-size="54" font-weight="bold" fill="#111">B.</text>
<text x="1809" y="280" font-size="34" fill="#111" textLength="270" lengthAdjust="spacingAndGlyphs">Photoreceptor loss</text>
<line x1="2087" y1="267" x2="2263" y2="265" stroke="#222" stroke-width="2"/>
<path d="M2362,95 L2406,95 L2406,130 L2394,140 L2390,150 L2396,160 L2394,170 L2386,276 L2372,276 L2362,170 L2365,150 L2362,140 Z" fill="#f7918d" stroke="#e07070" stroke-width="1.5"/>
<path d="M2378,165 h20 M2378,177 h18 M2378,189 h17 M2378,201 h15 M2378,213 h14 M2378,225 h12 M2378,237 h11 M2378,249 h9 M2378,261 h7" stroke="#fff" stroke-width="3"/>
<g transform="translate(2314,90) rotate(4.5)">
<path d="M-22,0 L22,2 L20,240 C20,246 14,248 0,248 C-14,248 -20,246 -20,240 Z" fill="#19a0d6" stroke="#111" stroke-width="2"/>
<path d="M0,20 C-8,30 -4,40 6,42 C14,45 16,55 18,62" stroke="#fff" stroke-width="4" fill="none"/>
<rect x="-17" y="55" width="34" height="185" fill="url(#discsB)"/>
</g>
<g transform="translate(2450,95)">
<path d="M-22,0 L22,-2 L22,362 C22,372 14,375 0,375 C-14,375 -22,372 -22,362 Z" fill="#19a0d6" stroke="#111" stroke-width="2"/>
<path d="M-2,22 C-10,34 -4,44 6,46 C14,50 18,62 20,80" stroke="#fff" stroke-width="4" fill="none"/>
<rect x="-17" y="82" width="34" height="285" fill="url(#discsB)"/>
</g>
<g transform="translate(2502,197) rotate(-18.5)">
<path d="M-22,0 L22,0 L22,240 C22,246 14,250 0,250 C-14,250 -22,246 -22,240 Z" fill="#19a0d6" stroke="#111" stroke-width="2"/>
<path d="M-2,22 C-10,34 -4,44 6,46 C14,50 18,58 20,66" stroke="#fff" stroke-width="4" fill="none"/>
<rect x="-17" y="62" width="34" height="180" fill="url(#discsB)"/>
</g>
<rect x="2234" y="740" width="356" height="44" fill="#02a28a"/>
<rect x="2234" y="785" width="356" height="52" fill="#fd8fb6"/>
<path d="M2248,815 C2280,800 2310,810 2340,802 C2370,795 2400,820 2440,808 C2480,798 2520,810 2585,800 M2300,808 L2320,825 M2420,812 L2450,825 M2500,805 L2530,795" stroke="#e8283a" stroke-width="3" fill="none"/>
<path d="M2249,740 L2263,695 L2278,631 L2267,603 L2241,603 L2249,517 L2256,448 L2252,367 C2256,350 2266,345 2271,347 C2285,350 2292,360 2293,367 L2300,413 C2305,428 2320,433 2329,431 C2345,428 2356,415 2359,402 L2351,321 C2354,295 2368,284 2381,284 C2398,285 2408,292 2410,298 L2414,344 L2414,459 C2418,480 2430,490 2445,490 C2465,490 2476,480 2478,470 L2487,436 L2494,367 C2498,358 2510,357 2516,359 C2522,362 2526,372 2527,379 L2535,436 C2540,445 2550,447 2557,445 L2579,439 L2575,488 L2549,545 L2571,591 L2582,631 L2586,740 L2557,717 L2513,683 L2461,672 L2417,689 L2359,689 L2307,706 Z" fill="#c46a62" stroke="#3b2218" stroke-width="6" stroke-linejoin="round"/>
<path d="M2290,742 L2300,705 L2330,690 L2395,688 L2420,696 L2460,676 L2500,686 L2540,712 L2560,742 L2520,755 L2450,752 L2380,757 L2300,760 Z" fill="#f2e400"/>
<path d="M2280,742 L2295,715 L2320,700 L2300,740 Z" fill="#02a28a"/>
<ellipse cx="2329" cy="513" rx="55" ry="50" fill="#f9a62b" stroke="#a06010" stroke-width="1.5"/>
<use href="#balls" transform="translate(2328,510) scale(1.05)"/>
<ellipse cx="2405" cy="620" rx="64" ry="57" fill="#8b3d3a"/>
<text x="1744" y="523" font-size="33" font-weight="bold" fill="#2a63a8" textLength="326" lengthAdjust="spacingAndGlyphs">Bisretinoid lipofuscin</text>
<text x="1744" y="561" font-size="33" font-weight="bold" fill="#2a63a8" textLength="360" lengthAdjust="spacingAndGlyphs">(Ex,A2E)  Accumulation</text>
<line x1="2087" y1="518" x2="2277" y2="516" stroke="#222" stroke-width="2"/>
<text x="1812" y="646" font-size="34" fill="#111" textLength="264" lengthAdjust="spacingAndGlyphs">RPE degeneration</text>
<line x1="2087" y1="637" x2="2303" y2="637" stroke="#222" stroke-width="2"/>
<text x="1801" y="743" font-size="34" font-weight="bold" fill="#2a63a8" textLength="270" lengthAdjust="spacingAndGlyphs">Drusen formation</text>
<line x1="2083" y1="735" x2="2336" y2="735" stroke="#222" stroke-width="2"/>

<!-- ================= PANEL A ================= -->
<text x="2851" y="76" font-size="54" font-weight="bold" fill="#111">A.</text>
<text x="2790" y="332" font-size="36" fill="#111" textLength="220" lengthAdjust="spacingAndGlyphs">Photoreceptors</text>
<path d="M3075,99 L3058,99 L3058,547 L3075,547" stroke="#333" stroke-width="2.5" fill="none"/>
<path d="M3387,82 L3369,82 L3369,227 L3387,227 M3387,232 L3369,232 L3369,357 L3387,357 M3387,362 L3369,362 L3369,525 L3387,525" stroke="#333" stroke-width="2.5" fill="none"/>
<g font-size="36" fill="#111" text-anchor="end">
<text x="3326" y="156" textLength="197" lengthAdjust="spacingAndGlyphs">Outer nuclear</text>
<text x="3326" y="194">layer</text>
<text x="3323" y="282">Inner</text>
<text x="3323" y="323" textLength="141" lengthAdjust="spacingAndGlyphs">segments</text>
<text x="3332" y="429">Outer</text>
<text x="3332" y="470" textLength="141" lengthAdjust="spacingAndGlyphs">segments</text>
<text x="3294" y="614" textLength="382" lengthAdjust="spacingAndGlyphs">Retinal pigment epithelium</text>
<text x="3291" y="689" textLength="272" lengthAdjust="spacingAndGlyphs">Bruch’s membrane</text>
<text x="3291" y="749" textLength="112" lengthAdjust="spacingAndGlyphs">Choroid</text>
</g>
<line x1="3303" y1="606" x2="3443" y2="606" stroke="#222" stroke-width="2"/>
<line x1="3300" y1="682" x2="3443" y2="682" stroke="#222" stroke-width="2"/>
<line x1="3298" y1="739" x2="3438" y2="739" stroke="#222" stroke-width="2"/>

<use href="#rod" x="3470" y="80"/>
<use href="#cone" x="3520" y="75"/>
<use href="#rod" x="3571" y="80"/>
<use href="#rod" x="3621" y="80"/>
<use href="#rod" x="3672" y="80"/>
<use href="#cone" x="3722" y="75"/>
<use href="#rod" x="3773" y="80"/>
<use href="#rod" x="3823" y="80"/>
<use href="#rod" x="3874" y="80"/>
<use href="#cone" x="3924" y="75"/>
<use href="#rod" x="3974" y="80"/>
<use href="#rod" x="4025" y="80"/>
<use href="#rod" x="4075" y="80"/>
<use href="#cone" x="4126" y="75"/>
<use href="#rod" x="4176" y="80"/>
<use href="#rod" x="4227" y="80"/>
<use href="#rod" x="4277" y="80"/>

<use href="#rpecell" x="3448" y="488"/>
<use href="#rpecell" x="3569" y="488"/>
<use href="#rpecell" x="3690" y="488"/>
<use href="#rpecell" x="3811" y="488"/>
<use href="#rpecell" x="3932" y="488"/>
<use href="#rpecell" x="4053" y="488"/>
<use href="#rpecell" x="4174" y="488"/>

<rect x="3442" y="649" width="858" height="43" fill="#00a28a" stroke="#222" stroke-width="3"/>
<rect x="3443" y="694" width="857" height="130" fill="#fd8fb7"/>
<g stroke="#e8283a" fill="none" stroke-linecap="round">
<path d="M3465,773 C3500,740 3540,735 3580,745 C3620,755 3650,730 3700,750 C3740,765 3780,770 3820,755 C3860,740 3900,760 3940,765 C3980,770 4000,750 4040,748 C4080,746 4100,720 4130,715" stroke-width="9"/>
<path d="M3560,740 C3600,720 3640,715 3680,730 M3700,750 C3740,720 3760,720 3800,735 M3760,700 C3790,730 3820,740 3850,760 C3900,790 3960,800 4000,790 M3900,705 C3880,730 3860,760 3830,790 M3960,710 C3940,740 3920,760 3900,790 M4060,770 C4090,745 4120,740 4160,735 C4200,730 4230,720 4260,722 M4040,765 C4070,785 4090,800 4120,808 M3640,760 C3660,780 3670,800 3700,810" stroke-width="6"/>
<path d="M3600,740 L3590,722 M3740,765 L3720,790 M3990,760 L4010,735 M4180,732 L4190,712 M4220,724 L4240,745 M3860,705 L3880,690 M3960,710 L3985,700" stroke-width="4"/>
</g>
</svg>
</body></html>
